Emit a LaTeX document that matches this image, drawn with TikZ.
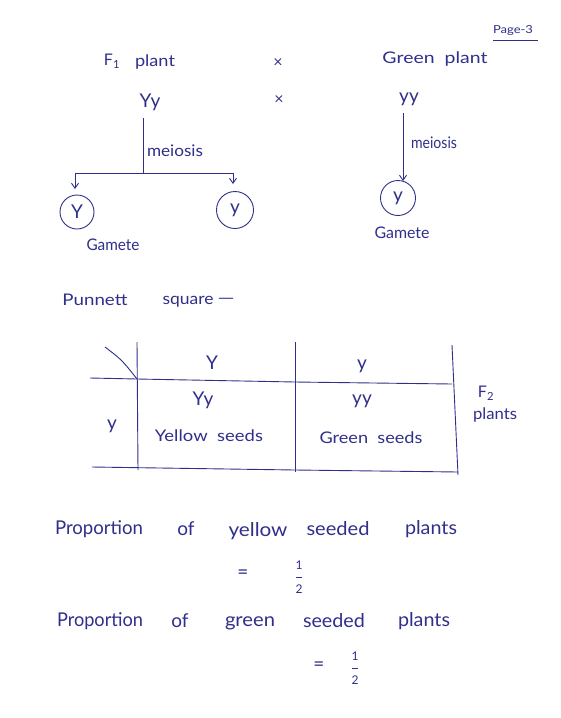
\documentclass[tikz,border=0pt]{standalone}
\usepackage{fontspec}
\usepackage{graphicx}
\setmainfont{Lato}
\usetikzlibrary{arrows.meta}
\definecolor{ink}{RGB}{48,48,140}
\newcommand\hw[2]{\resizebox{#1pt}{\height}{#2}}
\newcommand\half{$\displaystyle\frac{\hbox{\fontsize{12}{13}\selectfont 1}}{\hbox{\fontsize{12}{13}\selectfont 2}}$}
\begin{document}
\begin{tikzpicture}[x=1pt,y=-1pt,
  every node/.style={text=ink,font=\fontsize{16}{18}\selectfont,inner sep=0pt},
  big/.style={font=\fontsize{19}{21}\selectfont},
  pen/.style={draw=ink,line width=0.9pt},
  arr/.style={pen,-{Straight Barb[length=5pt,width=7pt]}},
  gam/.style={circle,draw=ink,line width=0.9pt,inner sep=0pt}]
\useasboundingbox[fill=white] (0,0) rectangle (560,718);
% header
\node (page) at (513,31) {\fontsize{11}{12}\selectfont\hw{40}{Page-3}};
\coordinate (ul1) at (493,40);
\coordinate (ul2) at (538,40);
\draw[pen] (ul1) -- (ul2);
\node (f1) at (112,61) {F\textsubscript{1}};
\node (f1p) at (155,62) {\hw{40}{plant}};
\node (x1) at (278,63) {×};
\node (gp) at (435,59) {\hw{105}{Green\ \ plant}};
\node[big] (Yy) at (150,102) {Yy};
\node (x2) at (279,100) {×};
\node[big] (yy) at (409,99) {yy};
% left meiosis
\coordinate (lt) at (143,118);
\coordinate (lj) at (143,173);
\coordinate (ll) at (75,173);
\coordinate (lr) at (233,173);
\coordinate (la) at (75,189);
\coordinate (ra) at (233,184);
\draw[pen] (lt) -- (lj);
\node (lm) at (175,151) {\hw{56}{meiosis}};
\draw[pen] (ll) -- (lr);
\node[gam,minimum size=34pt,big] (gY) at (77,212) {Y};
\node[gam,minimum size=37pt,big] (gy1) at (235,210) {y};
\draw[arr] (ll) -- (la);
\draw[arr] (lr) -- (ra);
\node (gam1) at (113,245) {\hw{53}{Gamete}};
% right meiosis
\coordinate (rt) at (403,113);
\coordinate (rb) at (403,181);
\draw[arr] (rt) -- (rb);
\node (rm) at (434,143) {\hw{46}{meiosis}};
\node[gam,minimum size=35pt,big] (gy2) at (398,198) {y};
\node (gam2) at (402,233) {\hw{55}{Gamete}};
% Punnett
\node (pn) at (95,300) {\hw{65}{Punnett}};
\node (sq) at (188,302) {\hw{51}{square}};
\node (dash) at (226,301) {\hw{17}{—}};
\coordinate (c1t) at (137,342);
\coordinate (c1b) at (138,470);
\coordinate (c2t) at (295,342);
\coordinate (c2b) at (295,472);
\coordinate (c3t) at (452,345);
\coordinate (c3b) at (458,475);
\coordinate (h0) at (90,378);
\coordinate (h1) at (137,379);
\coordinate (h2) at (295,382);
\coordinate (h3) at (452,384);
\coordinate (b0) at (92,467);
\coordinate (b1) at (295,470);
\coordinate (b2) at (458,472);
\coordinate (d0) at (105,347);
\draw[pen] (c1t) -- (c1b);
\draw[pen] (c2t) -- (c2b);
\draw[pen] (c3t) -- (c3b);
\draw[pen] (h0) -- (h1) -- (h2) -- (h3);
\draw[pen] (b0) -- (b1) -- (b2);
\draw[pen] (d0) .. controls (122,360) .. (h1);
\node[big] (hY) at (212,363) {Y};
\node[big] (hy) at (362,366) {y};
\node[big] (ry) at (112,426) {y};
\node[big] (cYy) at (203,400) {Yy};
\node (cYs) at (209,436) {\hw{108}{Yellow\ \ seeds}};
\node[big] (cyy) at (362,401) {yy};
\node (cGs) at (371,438) {\hw{103}{Green\ \ seeds}};
\node (f2) at (486,393) {F\textsubscript{2}};
\node (f2p) at (495,415) {\hw{44}{plants}};
% proportions
\node[big] (p1a) at (99,529) {\hw{88}{Proportion}};
\node[big] (p1b) at (186,529) {of};
\node[big] (p1c) at (258,531) {\hw{59}{yellow}};
\node[big] (p1d) at (338,529) {\hw{63}{seeded}};
\node[big] (p1e) at (431,529) {\hw{52}{plants}};
\node[big] (eq1) at (243,574) {=};
\node (fr1) at (299,577) {\half};
\node[big] (p2a) at (100,621) {\hw{86}{Proportion}};
\node[big] (p2b) at (180,621) {of};
\node[big] (p2c) at (250,623) {\hw{50}{green}};
\node[big] (p2d) at (334,621) {\hw{62}{seeded}};
\node[big] (p2e) at (424,621) {\hw{52}{plants}};
\node[big] (eq2) at (319,666) {=};
\node (fr2) at (355,668) {\half};
\end{tikzpicture}
\end{document}
